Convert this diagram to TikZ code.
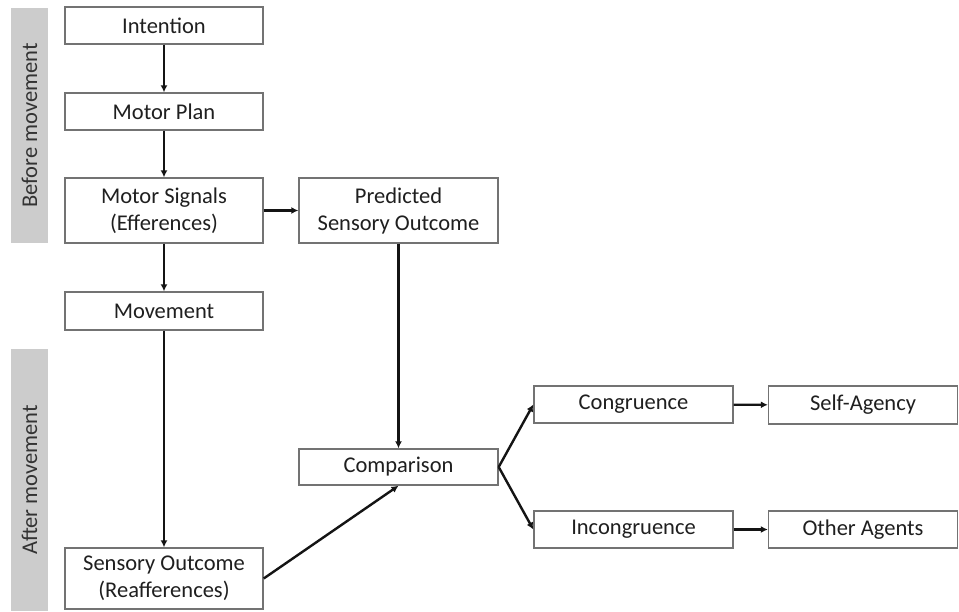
\documentclass[tikz,border=0pt]{standalone}
\usepackage{fontspec}
\setmainfont{Carlito}
\usetikzlibrary{arrows.meta}
\begin{document}
\begin{tikzpicture}[x=1pt,y=-1pt,
  box/.style={draw=black!55,line width=1.4pt,fill=white,inner sep=0pt,align=center,
    font=\fontsize{22.5}{27}\selectfont,text=black!88},
  conn/.style={line width=2.4pt,draw=black!92,-{Latex[length=7pt,width=7pt]}},
  band/.style={fill=black!20,draw=none},
  bandlabel/.style={rotate=90,font=\fontsize{22.5}{27}\selectfont,text=black!80}]
\useasboundingbox (0,0) rectangle (959,611);
\fill[white] (0,0) rectangle (959,611);
% side bands
\path[band] (11,8) rectangle (48,243);
\path[band] (11,349) rectangle (48,611);
\node[bandlabel] (before) at (29.5,125.5) {Before movement};
\node[bandlabel] (after) at (29.5,480) {After movement};
% boxes
\node[box,minimum width=198pt,minimum height=37pt] (int) at (164,25.5) {Intention};
\node[box,minimum width=198pt,minimum height=37pt] (plan) at (164,111.5) {Motor Plan};
\node[box,minimum width=198pt,minimum height=65pt] (sig) at (164,210.5) {Motor Signals\\(Efferences)};
\node[box,minimum width=198pt,minimum height=38pt] (mov) at (164,311) {Movement};
\node[box,minimum width=198pt,minimum height=61pt] (sens) at (164,578.5) {Sensory Outcome\\(Reafferences)};
\node[box,minimum width=199pt,minimum height=65pt] (pred) at (398.5,210.5) {Predicted\\Sensory Outcome};
\node[box,minimum width=199pt,minimum height=36pt] (comp) at (398.5,467) {Comparison};
\node[box,minimum width=199pt,minimum height=37pt] (cong) at (633.5,404.5) {Congruence};
\node[box,minimum width=189pt,minimum height=38pt] (self) at (863,405) {Self-Agency};
\node[box,minimum width=199pt,minimum height=37pt] (incong) at (633.5,529.5) {Incongruence};
\node[box,minimum width=189pt,minimum height=37pt] (other) at (863,529.5) {Other Agents};
% connectors
\draw[conn] (int) -- (plan);
\draw[conn] (plan) -- (sig);
\draw[conn] (sig) -- (mov);
\draw[conn] (mov) -- (sens);
\draw[conn] (sig) -- (pred);
\draw[conn] (pred) -- (comp);
\draw[conn] (sens.east) -- (comp.south);
\draw[conn] (comp.east) -- (cong.west);
\draw[conn] (comp.east) -- (incong.west);
\draw[conn] (cong) -- (self);
\draw[conn] (incong) -- (other);
\end{tikzpicture}
\end{document}
